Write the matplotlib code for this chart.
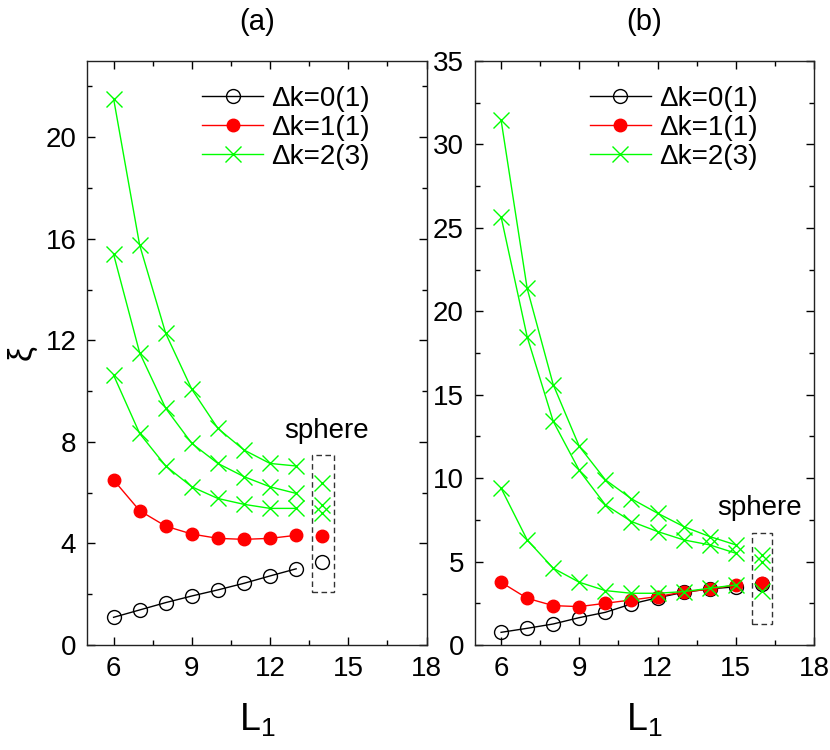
import matplotlib
matplotlib.use("Agg")
import matplotlib.pyplot as plt
from matplotlib.patches import Rectangle
from matplotlib.ticker import MultipleLocator

plt.rcParams['font.family'] = ['Liberation Sans', 'DejaVu Sans']
plt.rcParams['mathtext.fontset'] = 'custom'
plt.rcParams['mathtext.rm'] = 'Liberation Sans'
plt.rcParams['mathtext.it'] = 'Liberation Sans:italic'

# ---- panel (a) data ----
La = [6, 7, 8, 9, 10, 11, 12, 13]
a_k0 = [1.09, 1.38, 1.67, 1.93, 2.17, 2.43, 2.72, 3.00]
a_k1 = [6.50, 5.29, 4.68, 4.37, 4.20, 4.16, 4.20, 4.32]
a_k2_1 = [21.52, 15.75, 12.27, 10.07, 8.53, 7.68, 7.15, 7.05]
a_k2_2 = [15.39, 11.51, 9.32, 7.94, 7.15, 6.63, 6.23, 5.97]
a_k2_3 = [10.63, 8.33, 7.05, 6.23, 5.77, 5.54, 5.38, 5.38]
a_sph_L = 14
a_sph_k0 = 3.28
a_sph_k1 = 4.30
a_sph_k2 = [6.37, 5.51, 5.18]

# ---- panel (b) data ----
Lb = [6, 7, 8, 9, 10, 11, 12, 13, 14, 15]
b_k0 = [0.76, 1.00, 1.26, 1.64, 1.96, 2.46, 2.83, 3.16, 3.36, 3.49]
b_k1 = [3.76, 2.80, 2.36, 2.30, 2.50, 2.70, 2.90, 3.18, 3.34, 3.60]
b_k2_1 = [31.46, 21.37, 15.6, 11.9, 9.9, 8.76, 7.9, 7.1, 6.5, 6.0]
b_k2_2 = [25.66, 18.47, 13.4, 10.46, 8.4, 7.4, 6.8, 6.3, 6.0, 5.5]
b_k2_3 = [9.4, 6.3, 4.6, 3.76, 3.26, 3.1, 3.1, 3.2, 3.4, 3.6]
b_sph_L = 16
b_sph_k0 = 3.65
b_sph_k1 = 3.70
b_sph_k2 = [5.4, 5.0, 3.26]

labels = ["\u0394k=0(1)", "\u0394k=1(1)", "\u0394k=2(3)"]
GREEN = "#00ff00"
FS = 20


def draw_panel(ax, L, k0, k1, k2s, sL, s0, s1, s2, box, txt, ylim, ymaj, ymin):
	ax.plot(L, k0, "-", color="black", lw=1.0, marker="o", ms=10,
	        mfc="none", mec="black", mew=1.0, label=labels[0])
	ax.plot(L, k1, "-", color="red", lw=1.0, marker="o", ms=9,
	        mfc="red", mec="red", label=labels[1])
	for i, g in enumerate(k2s):
		ax.plot(L, g, "-", color=GREEN, lw=1.0, marker="x", ms=11, mew=1.0,
		        label=labels[2] if i == 0 else None)
	# sphere points
	ax.plot([sL], [s0], "o", ms=10, mfc="none", mec="black", mew=1.0)
	ax.plot([sL], [s1], "o", ms=9, mfc="red", mec="red")
	ax.plot([sL] * len(s2), s2, "x", ms=11, mew=1.0, color=GREEN)
	x0, x1, y0, y1 = box
	ax.add_patch(Rectangle((x0, y0), x1 - x0, y1 - y0, fill=False,
	                       ls=(0, (4, 2.5)), lw=1.0, ec="#333333"))
	ax.text(txt[0], txt[1], "sphere", ha="center", va="center", fontsize=FS)

	ax.set_xlim(5, 18)
	ax.set_ylim(*ylim)
	ax.xaxis.set_major_locator(MultipleLocator(3))
	ax.xaxis.set_minor_locator(MultipleLocator(1.5))
	ax.yaxis.set_major_locator(MultipleLocator(ymaj))
	ax.yaxis.set_minor_locator(MultipleLocator(ymin))
	ax.tick_params(which="both", direction="in", top=True, right=True,
	               labelsize=FS, width=1.0)
	ax.tick_params(which="major", length=6, pad=8)
	ax.tick_params(which="minor", length=3.5)
	for s in ax.spines.values():
		s.set_linewidth(1.0)
		s.set_color("#222222")
	ax.set_xlabel(r"$\mathrm{L}_1$", fontsize=27, labelpad=14)
	ax.legend(loc="upper left", bbox_to_anchor=(0.338, 0.958), frameon=False,
	          fontsize=FS, handlelength=2.2, handletextpad=0.3,
	          labelspacing=0.12, borderpad=0, borderaxespad=0)


fig = plt.figure(figsize=(8.3, 7.5), dpi=100)
axa = fig.add_axes([0.1054, 0.14, 0.4085, 0.7787])
axb = fig.add_axes([0.5723, 0.14, 0.4084, 0.7787])

draw_panel(axa, La, a_k0, a_k1, [a_k2_1, a_k2_2, a_k2_3],
           a_sph_L, a_sph_k0, a_sph_k1, a_sph_k2,
           (13.6, 14.46, 2.07, 7.48), (14.15, 8.43), (0, 23), 4, 2)
draw_panel(axb, Lb, b_k0, b_k1, [b_k2_1, b_k2_2, b_k2_3],
           b_sph_L, b_sph_k0, b_sph_k1, b_sph_k2,
           (15.61, 16.38, 1.26, 6.69), (15.93, 8.24), (0, 35), 5, 2.5)

axa.set_ylabel("\u03be", fontsize=24, labelpad=6)
axa.set_title("(a)", fontsize=21, pad=22)
axb.set_title("(b)", fontsize=21, pad=22)

fig.savefig("out.png", dpi=100)
